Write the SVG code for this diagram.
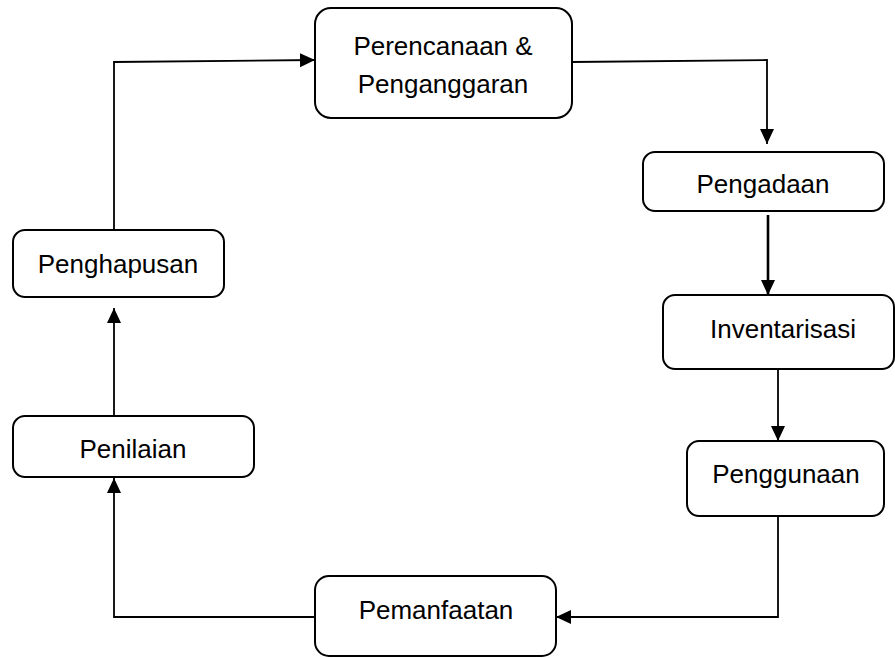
<svg xmlns="http://www.w3.org/2000/svg" width="895" height="658" viewBox="0 0 895 658">
<defs>
<marker id="ah" markerUnits="userSpaceOnUse" markerWidth="16" markerHeight="16" viewBox="0 0 16 16" refX="15" refY="8" orient="auto">
<path d="M0,1 L15,8 L0,15 Z" fill="#000"/>
</marker>
</defs>
<style>
.box{fill:#fff;stroke:#000;stroke-width:2}
.lbl{font-family:"Liberation Sans",Arial,sans-serif;font-size:26px;fill:#000;text-anchor:middle}
.con{fill:none;stroke:#000;stroke-width:1.8;marker-end:url(#ah)}
.thick{stroke-width:2.6}
</style>
<g id="connectors">
<path class="con" d="M572,62 L767,60 L767,144"/>
<path class="con thick" d="M768,215 L768,295"/>
<path class="con" d="M778,369 L778,441"/>
<path class="con" d="M778,516 L778,617 L556,617"/>
<path class="con" d="M315,617 L114,617 L114,478"/>
<path class="con" d="M114,416 L114,308"/>
<path class="con" d="M114,230 L114,62 L315,60"/>
</g>
<g id="perencanaan">
<rect class="box" x="315" y="8" width="257" height="110" rx="16"/>
<text class="lbl" x="443" y="55">Perencanaan &amp;</text>
<text class="lbl" x="443" y="93">Penganggaran</text>
</g>
<g id="pengadaan">
<rect class="box" x="643" y="152" width="241" height="59" rx="12"/>
<text class="lbl" x="763" y="193">Pengadaan</text>
</g>
<g id="inventarisasi">
<rect class="box" x="663" y="295" width="231" height="74" rx="12"/>
<text class="lbl" x="783" y="338">Inventarisasi</text>
</g>
<g id="penggunaan">
<rect class="box" x="687" y="441" width="197" height="75" rx="12"/>
<text class="lbl" x="786" y="483">Penggunaan</text>
</g>
<g id="pemanfaatan">
<rect class="box" x="315" y="576" width="241" height="80" rx="14"/>
<text class="lbl" x="436" y="619">Pemanfaatan</text>
</g>
<g id="penilaian">
<rect class="box" x="13" y="416" width="241" height="61" rx="12"/>
<text class="lbl" x="133" y="458">Penilaian</text>
</g>
<g id="penghapusan">
<rect class="box" x="13" y="230" width="211" height="67" rx="12"/>
<text class="lbl" x="118" y="273">Penghapusan</text>
</g>
</svg>
